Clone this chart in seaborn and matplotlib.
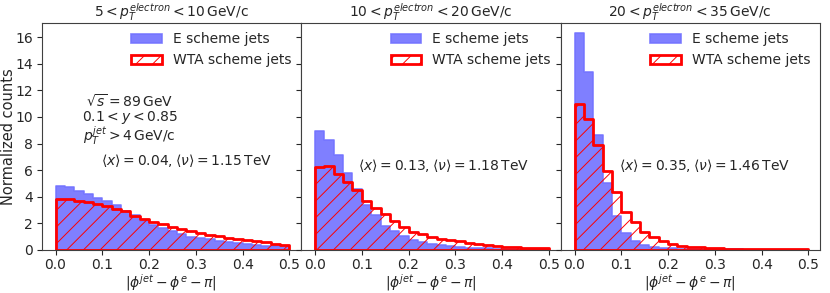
import numpy as np
import pandas as pd
import matplotlib
matplotlib.use("Agg")
import matplotlib.pyplot as plt
import seaborn as sns
from matplotlib.patches import Patch

sns.set_style("ticks")
plt.rcParams['font.family'] = ['DejaVu Sans']
plt.rcParams['mathtext.fontset'] = 'dejavusans'
plt.rcParams['hatch.color'] = 'red'
plt.rcParams['hatch.linewidth'] = 0.7

bin_edges = np.round(np.arange(0, 0.5001, 0.02), 3)
bin_centers = (bin_edges[:-1] + bin_edges[1:]) / 2

panel_titles = [r"$5 < p_T^{electron} < 10\,\mathrm{GeV/c}$",
                r"$10 < p_T^{electron} < 20\,\mathrm{GeV/c}$",
                r"$20 < p_T^{electron} < 35\,\mathrm{GeV/c}$"]
panel_means = [r"$\langle x\rangle = 0.04, \langle \nu\rangle = 1.15\,\mathrm{TeV}$",
               r"$\langle x\rangle = 0.13, \langle \nu\rangle = 1.18\,\mathrm{TeV}$",
               r"$\langle x\rangle = 0.35, \langle \nu\rangle = 1.46\,\mathrm{TeV}$"]

e_scheme_1 = [4.83, 4.70, 4.45, 4.20, 3.90, 3.65, 3.35, 2.95, 2.60, 2.20, 1.85, 1.65, 1.40,
              1.20, 1.00, 0.90, 0.80, 0.70, 0.58, 0.50, 0.43, 0.38, 0.33, 0.30, 0.28]
wta_scheme_1 = [3.83, 3.80, 3.71, 3.58, 3.46, 3.28, 3.08, 2.90, 2.55, 2.30, 2.12, 1.92, 1.74,
                1.58, 1.42, 1.28, 1.14, 1.02, 0.92, 0.82, 0.72, 0.64, 0.56, 0.48, 0.40]
e_scheme_2 = [8.92, 8.27, 7.14, 5.79, 4.58, 3.40, 2.65, 1.83, 1.45, 1.07, 0.75, 0.60, 0.45,
              0.35, 0.27, 0.20, 0.17, 0.14, 0.11, 0.09, 0.07, 0.06, 0.05, 0.04, 0.03]
wta_scheme_2 = [6.21, 6.29, 5.71, 5.08, 4.53, 3.66, 3.15, 2.70, 2.15, 1.75, 1.33, 1.20, 0.95,
                0.82, 0.75, 0.65, 0.55, 0.45, 0.35, 0.30, 0.25, 0.20, 0.17, 0.15, 0.12]
e_scheme_3 = [16.3, 13.4, 8.67, 5.00, 2.58, 1.28, 0.70, 0.40, 0.25, 0.17, 0.12, 0.10, 0.08,
              0.06, 0.05, 0.05, 0.04, 0.04, 0.03, 0.03, 0.03, 0.02, 0.02, 0.02, 0.02]
wta_scheme_3 = [10.98, 9.85, 7.89, 5.96, 4.38, 2.83, 2.08, 1.38, 0.95, 0.65, 0.45, 0.33, 0.25,
                0.20, 0.15, 0.12, 0.10, 0.09, 0.08, 0.07, 0.06, 0.05, 0.05, 0.04, 0.04]

e_all = [e_scheme_1, e_scheme_2, e_scheme_3]
wta_all = [wta_scheme_1, wta_scheme_2, wta_scheme_3]

fig, axes = plt.subplots(1, 3, figsize=(8.3, 2.93), dpi=100, sharey=True)
fig.subplots_adjust(left=0.050, right=0.988, bottom=0.147, top=0.923, wspace=0)

blue_face = (0.0, 0.0, 1.0, 0.5)
blue_edge = (0.45, 0.45, 1.0, 0.9)

for i, ax in enumerate(axes):
    df = pd.DataFrame({"x": bin_centers, "e": e_all[i], "wta": wta_all[i]})
    sns.histplot(data=df, x="x", weights="e", binwidth=0.02, binrange=(0, 0.5),
                 element="step", fill=True, ax=ax, color="blue",
                 facecolor=blue_face, edgecolor=blue_edge, linewidth=1.2, alpha=None)
    sns.histplot(data=df, x="x", weights="wta", binwidth=0.02, binrange=(0, 0.5),
                 element="step", fill=True, ax=ax, color="red",
                 facecolor="none", edgecolor="red", hatch="//", linewidth=2, alpha=None)
    ax.set_xlim(-0.03, 0.525)
    ax.set_ylim(0, 17.1)
    ax.set_xticks([0.0, 0.1, 0.2, 0.3, 0.4, 0.5])
    ax.set_xticklabels(["0.0", "0.1", "0.2", "0.3", "0.4", "0.5"])
    ax.set_yticks(range(0, 17, 2))
    ax.tick_params(labelsize=10, length=3.5, width=0.8, pad=2.5)
    ax.set_title(panel_titles[i], fontsize=10, pad=4)
    ax.set_xlabel(r"$|\phi^{jet} - \phi^{e} - \pi|$", fontsize=10, labelpad=0)
    if i == 0:
        ax.set_ylabel("Normalized counts", fontsize=10.5)
        ax.yaxis.set_label_coords(-0.098, 0.5)
    else:
        ax.set_ylabel("")
    handles = [Patch(facecolor=blue_face, edgecolor=blue_edge, linewidth=1.2),
               Patch(facecolor="none", edgecolor="red", hatch="//", linewidth=2)]
    ax.legend(handles, ["E scheme jets", "WTA scheme jets"], loc="upper right",
              frameon=False, fontsize=10, handlelength=2.2, borderaxespad=0.3)
    for s in ax.spines.values():
        s.set_linewidth(0.8)
        s.set_color("0.25")

axes[0].text(0.34, 0.653, r"$\sqrt{s} = 89\,\mathrm{GeV}$", transform=axes[0].transAxes,
             ha="center", va="center", fontsize=10)
axes[0].text(0.34, 0.583, r"$0.1 < y < 0.85$", transform=axes[0].transAxes,
             ha="center", va="center", fontsize=10)
axes[0].text(0.34, 0.50, r"$p_T^{jet} > 4\,\mathrm{GeV/c}$", transform=axes[0].transAxes,
             ha="center", va="center", fontsize=10)
mean_pos = [(0.56, 0.395), (0.55, 0.373), (0.556, 0.373)]
for i, ax in enumerate(axes):
    ax.text(mean_pos[i][0], mean_pos[i][1], panel_means[i], transform=ax.transAxes,
            ha="center", va="center", fontsize=10)

fig.savefig("out.png", dpi=100)
